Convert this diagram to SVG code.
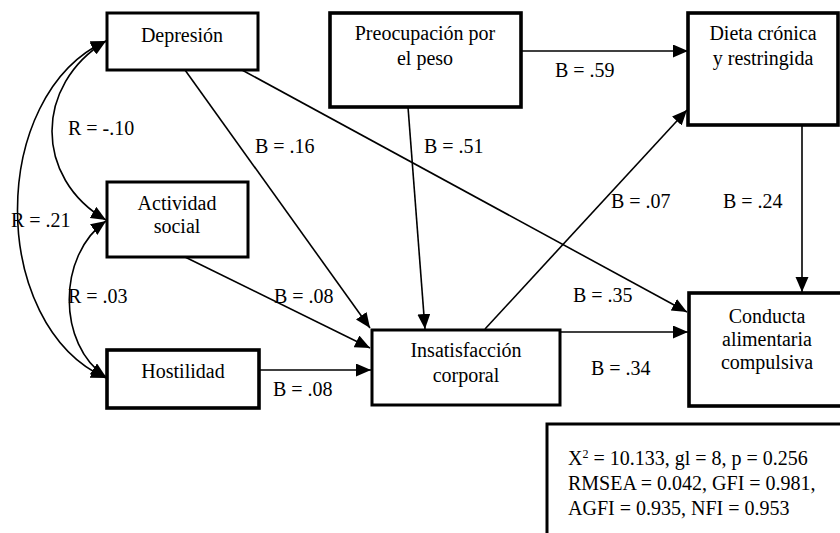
<svg xmlns="http://www.w3.org/2000/svg" width="840" height="533" viewBox="0 0 840 533">
<style>
  .box { fill: #fff; stroke: #000; stroke-width: 3; }
  .thick { stroke-width: 3.6; }
  .lbl { font-family: "Liberation Serif", "Times New Roman", serif; font-size: 20px; fill: #000; }
  .ctr { text-anchor: middle; }
  .edge { fill: none; stroke: #000; stroke-width: 1.6; }
</style>
<defs>
  <marker id="arr" markerUnits="userSpaceOnUse" markerWidth="16" markerHeight="14" refX="15" refY="6.5" orient="auto-start-reverse" viewBox="0 0 16 14">
    <path d="M0,0 L15,6.5 L0,13 z" fill="#000"/>
  </marker>
</defs>
<rect x="0" y="0" width="840" height="533" fill="#fff"/>

<g id="connectors">
  <path class="edge" d="M106,41 C34,85 34,178 106,220" marker-start="url(#arr)" marker-end="url(#arr)"/>
  <path class="edge" d="M106,221 C57,255 57,345 106,377" marker-start="url(#arr)" marker-end="url(#arr)"/>
  <path class="edge" d="M106,41 C-12,95 -12,325 106,378" marker-start="url(#arr)" marker-end="url(#arr)"/>
  <line class="edge" x1="185" y1="70" x2="370" y2="328" marker-end="url(#arr)"/>
  <line class="edge" x1="185" y1="257" x2="370" y2="348" marker-end="url(#arr)"/>
  <line class="edge" x1="259" y1="370" x2="371" y2="370" marker-end="url(#arr)"/>
  <line class="edge" x1="408" y1="107" x2="425" y2="329" marker-end="url(#arr)"/>
  <line class="edge" x1="242" y1="70" x2="687" y2="312" marker-end="url(#arr)"/>
  <line class="edge" x1="485" y1="329" x2="687" y2="110" marker-end="url(#arr)"/>
  <line class="edge" x1="560" y1="332" x2="688" y2="332" marker-end="url(#arr)"/>
  <line class="edge" x1="521" y1="51" x2="688" y2="51" marker-end="url(#arr)"/>
  <line class="edge" x1="802" y1="125" x2="802" y2="292" marker-end="url(#arr)"/>
</g>

<g id="depresion">
  <rect class="box" x="107" y="13" width="151" height="57"/>
  <text class="lbl ctr" x="182" y="42">Depresión</text>
</g>
<g id="preocupacion">
  <rect class="box thick" x="330" y="13" width="191" height="94"/>
  <text class="lbl ctr" x="425" y="40">Preocupación por</text>
  <text class="lbl ctr" x="425" y="65">el peso</text>
</g>
<g id="dieta">
  <rect class="box thick" x="688" y="13" width="150" height="112"/>
  <text class="lbl ctr" x="763" y="40">Dieta crónica</text>
  <text class="lbl ctr" x="763" y="65">y restringida</text>
</g>
<g id="actividad">
  <rect class="box" x="107" y="182" width="141" height="75"/>
  <text class="lbl ctr" x="177" y="210">Actividad</text>
  <text class="lbl ctr" x="177" y="233">social</text>
</g>
<g id="hostilidad">
  <rect class="box thick" x="107" y="350" width="152" height="58"/>
  <text class="lbl ctr" x="183" y="378">Hostilidad</text>
</g>
<g id="insatisfaccion">
  <rect class="box" x="372" y="330" width="188" height="75"/>
  <text class="lbl ctr" x="466" y="357">Insatisfacción</text>
  <text class="lbl ctr" x="466" y="382">corporal</text>
</g>
<g id="conducta">
  <rect class="box thick" x="689" y="293" width="156" height="113"/>
  <text class="lbl ctr" x="767" y="323">Conducta</text>
  <text class="lbl ctr" x="767" y="346">alimentaria</text>
  <text class="lbl ctr" x="767" y="369">compulsiva</text>
</g>

<g id="labels">
  <text class="lbl" x="68" y="135">R = -.10</text>
  <text class="lbl" x="11" y="227">R = .21</text>
  <text class="lbl" x="68" y="303">R = .03</text>
  <text class="lbl" x="255" y="153">B = .16</text>
  <text class="lbl" x="424" y="153">B = .51</text>
  <text class="lbl" x="555" y="77">B = .59</text>
  <text class="lbl" x="274" y="303">B = .08</text>
  <text class="lbl" x="273" y="396">B = .08</text>
  <text class="lbl" x="611" y="208">B = .07</text>
  <text class="lbl" x="723" y="208">B = .24</text>
  <text class="lbl" x="573" y="302">B = .35</text>
  <text class="lbl" x="591" y="375">B = .34</text>
</g>

<g id="stats">
  <rect class="box" x="547" y="424" width="300" height="120"/>
  <text class="lbl" x="568" y="465">X<tspan dy="-7" font-size="12">2</tspan><tspan dy="7"> = 10.133, gl = 8, p = 0.256</tspan></text>
  <text class="lbl" x="568" y="490">RMSEA = 0.042, GFI = 0.981,</text>
  <text class="lbl" x="568" y="515">AGFI = 0.935, NFI = 0.953</text>
</g>
</svg>
